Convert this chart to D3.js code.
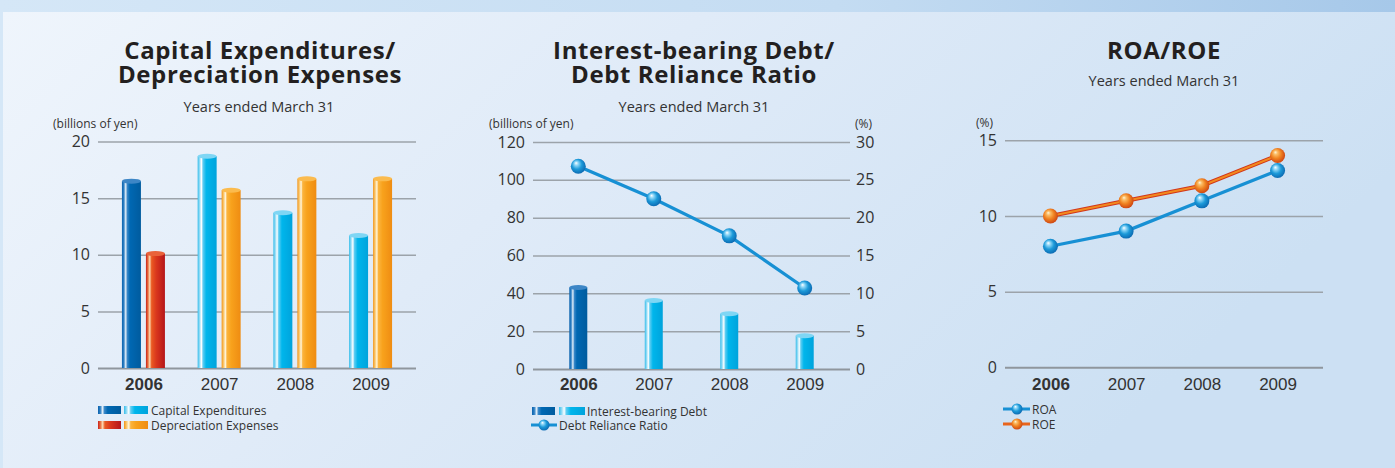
<!DOCTYPE html>
<html>
<head>
<meta charset="utf-8">
<script src="https://cdn.jsdelivr.net/npm/d3@7/dist/d3.min.js"></script>
<style>
  html, body { margin: 0; padding: 0; background: #eaf2fb; }
  svg { display: block; font-family: "Open Sans", "Noto Sans", sans-serif; }
  .tick text { fill: #333; }
</style>
</head>
<body>
<svg id="chart" width="1395" height="468"></svg>
<script>
// ---- data ----
const years = ["2006", "2007", "2008", "2009"];
const capitalExpenditures = [16.5, 18.7, 13.7, 11.7];      // billions of yen
const depreciationExpenses = [10.1, 15.7, 16.7, 16.7];     // billions of yen
const interestBearingDebt = [43.1, 36.2, 29.2, 17.6];      // billions of yen
const debtRelianceRatio = [26.8, 22.5, 17.6, 10.7];        // %
const roa = [8.0, 9.0, 11.0, 13.0];                         // %
const roe = [10.0, 11.0, 12.0, 14.0];                       // %
const capexTicks = [0, 5, 10, 15, 20];
const debtTicks = [0, 20, 40, 60, 80, 100, 120];
const ratioTicks = [0, 5, 10, 15, 20, 25, 30];
const roTicks = [0, 5, 10, 15];

const svg = d3.select("#chart");
const W = 1395, H = 468;
const defs = svg.append("defs");

// ---- background ----
const bgTop = defs.append("linearGradient").attr("id", "bgTop").attr("x1", 0).attr("x2", 1).attr("y1", 0).attr("y2", 0);
bgTop.append("stop").attr("offset", "0%").attr("stop-color", "#d5e7f7");
bgTop.append("stop").attr("offset", "60%").attr("stop-color", "#c4dcf2");
bgTop.append("stop").attr("offset", "100%").attr("stop-color", "#a6c8e9");
const bgPanel = defs.append("linearGradient").attr("id", "bgPanel").attr("x1", 0).attr("x2", 1).attr("y1", 0).attr("y2", 0.35);
bgPanel.append("stop").attr("offset", "0%").attr("stop-color", "#eff5fc");
bgPanel.append("stop").attr("offset", "45%").attr("stop-color", "#e0ebf8");
bgPanel.append("stop").attr("offset", "100%").attr("stop-color", "#cce0f3");
svg.append("rect").attr("width", W).attr("height", H).attr("fill", "url(#bgTop)");
svg.append("rect").attr("x", 3).attr("y", 12).attr("width", W - 3).attr("height", H - 12).attr("fill", "url(#bgPanel)");

// ---- gradients for cylinder bars ----
function barGradient(id, stops) {
  const g = defs.append("linearGradient").attr("id", id).attr("x1", 0).attr("x2", 1).attr("y1", 0).attr("y2", 0);
  stops.forEach(([o, c]) => g.append("stop").attr("offset", o).attr("stop-color", c));
}
barGradient("gDarkBlue", [["0%", "#0a62ad"], ["10%", "#2f80c4"], ["20%", "#e6f1fa"], ["28%", "#3a88c8"], ["42%", "#0068b3"], ["100%", "#005b9e"]]);
barGradient("gLightBlue", [["0%", "#35bdea"], ["10%", "#8fdaf5"], ["20%", "#ffffff"], ["28%", "#5fcdf2"], ["45%", "#00b6ec"], ["100%", "#00a3dc"]]);
barGradient("gRed", [["0%", "#c8201c"], ["10%", "#e86a3a"], ["20%", "#fbd7b0"], ["30%", "#ea5a22"], ["55%", "#d9361d"], ["100%", "#b5161a"]]);
barGradient("gOrange", [["0%", "#f39416"], ["10%", "#f9c56a"], ["20%", "#fff5dc"], ["28%", "#fbb43e"], ["50%", "#f8a21c"], ["100%", "#ef8c12"]]);
const capGrad = { gDarkBlue: "#3d86c6", gLightBlue: "#7fd6f4", gRed: "#e9623a", gOrange: "#fbbb4e" };

// ---- sphere gradients ----
function sphereGradient(id, stops) {
  const g = defs.append("radialGradient").attr("id", id).attr("cx", "45%").attr("cy", "45%").attr("r", "60%").attr("fx", "35%").attr("fy", "28%");
  stops.forEach(([o, c]) => g.append("stop").attr("offset", o).attr("stop-color", c));
}
sphereGradient("sBlue", [["0%", "#ffffff"], ["22%", "#8ed6f7"], ["55%", "#1c9ad9"], ["100%", "#0a64ad"]]);
sphereGradient("sOrange", [["0%", "#fff4d8"], ["22%", "#fbbd66"], ["55%", "#f08321"], ["100%", "#c93e10"]]);

// ---- helpers ----
function title(cx, lines, y0) {
  lines.forEach((t, i) => svg.append("text").attr("x", cx).attr("y", y0 + i * 24)
    .attr("text-anchor", "middle").attr("font-size", 24).attr("font-weight", 700)
    .attr("letter-spacing", 0.6).attr("fill", "#231f20").text(t));
}
function subtitle(cx, y) {
  svg.append("text").attr("x", cx).attr("y", y).attr("text-anchor", "middle")
    .attr("font-size", 14.5).attr("fill", "#333").text("Years ended March 31");
}
function unitLabel(x, y, t, anchor) {
  svg.append("text").attr("x", x).attr("y", y).attr("text-anchor", anchor || "start")
    .attr("font-size", 12).attr("fill", "#333").text(t);
}
function gridAxis(yScale, ticks, x0, x1) {
  const g = svg.append("g").attr("transform", `translate(${x0},0)`);
  g.call(d3.axisLeft(yScale).tickValues(ticks).tickSize(-(x1 - x0)).tickPadding(8).tickFormat(d3.format("d")));
  g.select(".domain").remove();
  g.selectAll(".tick line").attr("stroke", "#9ca3aa").attr("stroke-width", 1.5);
  g.selectAll(".tick").filter(d => d === 0).select("line").attr("stroke", "#8f969d").attr("stroke-width", 2);
  g.selectAll(".tick text").attr("font-size", 16).attr("fill", "#333").attr("font-family", "'Open Sans', sans-serif");
  return g;
}
function rightAxis(yScale, ticks, x) {
  const g = svg.append("g").attr("transform", `translate(${x},0)`);
  g.call(d3.axisRight(yScale).tickValues(ticks).tickSize(0).tickPadding(6).tickFormat(d3.format("d")));
  g.select(".domain").remove();
  g.selectAll(".tick text").attr("font-size", 16).attr("fill", "#333").attr("font-family", "'Open Sans', sans-serif");
}
function xLabels(xScale, y) {
  const g = svg.append("g").attr("transform", `translate(0,${y})`);
  g.call(d3.axisBottom(xScale).tickSize(0).tickPadding(0));
  g.select(".domain").remove();
  g.selectAll(".tick text").attr("font-size", 17).attr("fill", "#333").attr("dy", 0)
    .attr("font-weight", (d, i) => i === 0 ? 700 : 400);
}
function cylinder(g, x, w, yTop, yBase, grad) {
  g.append("rect").attr("x", x).attr("y", yTop).attr("width", w).attr("height", yBase - yTop).attr("fill", `url(#${grad})`);
  g.append("ellipse").attr("cx", x + w / 2).attr("cy", yTop).attr("rx", w / 2).attr("ry", 2.5).attr("fill", capGrad[grad]);
}
function sphere(g, x, y, grad) {
  g.append("circle").attr("cx", x).attr("cy", y).attr("r", 7.5).attr("fill", `url(#${grad})`);
}

// ===== Chart 1: Capital Expenditures / Depreciation Expenses =====
{
  const x0 = 98, x1 = 416;
  const x = d3.scalePoint().domain(years).range([x0, x1]).padding(0.6);
  const y = d3.scaleLinear().domain([0, 20]).range([368, 141.5]);
  title(260, ["Capital Expenditures/", "Depreciation Expenses"], 59);
  subtitle(259, 112);
  unitLabel(53, 128, "(billions of yen)");
  gridAxis(y, capexTicks, x0, x1);
  const g = svg.append("g");
  const bw = 19;
  years.forEach((yr, i) => {
    const c = x(yr);
    cylinder(g, c - 2.5 - bw, bw, y(capitalExpenditures[i]), y(0), i === 0 ? "gDarkBlue" : "gLightBlue");
    cylinder(g, c + 2.5, bw, y(depreciationExpenses[i]), y(0), i === 0 ? "gRed" : "gOrange");
  });
  xLabels(x, 390);
  // legend
  const lg = svg.append("g");
  lg.append("rect").attr("x", 98).attr("y", 406).attr("width", 23).attr("height", 8).attr("fill", "url(#gDarkBlue)");
  lg.append("rect").attr("x", 124).attr("y", 406).attr("width", 24).attr("height", 8).attr("fill", "url(#gLightBlue)");
  lg.append("text").attr("x", 151).attr("y", 415).attr("font-size", 12).attr("fill", "#333").text("Capital Expenditures");
  lg.append("rect").attr("x", 98).attr("y", 421).attr("width", 23).attr("height", 8).attr("fill", "url(#gRed)");
  lg.append("rect").attr("x", 124).attr("y", 421).attr("width", 24).attr("height", 8).attr("fill", "url(#gOrange)");
  lg.append("text").attr("x", 151).attr("y", 430).attr("font-size", 12).attr("fill", "#333").text("Depreciation Expenses");
}

// ===== Chart 2: Interest-bearing Debt / Debt Reliance Ratio =====
{
  const x0 = 533, x1 = 850;
  const x = d3.scalePoint().domain(years).range([x0, x1]).padding(0.6);
  const y = d3.scaleLinear().domain([0, 120]).range([369, 142]);
  const yr = d3.scaleLinear().domain([0, 30]).range([369, 142]);
  title(694, ["Interest-bearing Debt/", "Debt Reliance Ratio"], 59);
  subtitle(694, 112);
  unitLabel(489, 128, "(billions of yen)");
  unitLabel(855, 128, "(%)");
  gridAxis(y, debtTicks, x0, x1);
  rightAxis(yr, ratioTicks, x1);
  const g = svg.append("g");
  const bw = 18;
  years.forEach((yrs, i) => {
    cylinder(g, x(yrs) - bw / 2, bw, y(interestBearingDebt[i]), y(0), i === 0 ? "gDarkBlue" : "gLightBlue");
  });
  const line = d3.line().x((d, i) => x(years[i])).y(d => yr(d));
  g.append("path").datum(debtRelianceRatio).attr("d", line).attr("fill", "none")
    .attr("stroke", "#1790d4").attr("stroke-width", 3.2);
  debtRelianceRatio.forEach((v, i) => sphere(g, x(years[i]), yr(v), "sBlue"));
  xLabels(x, 390);
  // legend
  const lg = svg.append("g");
  lg.append("rect").attr("x", 532).attr("y", 407).attr("width", 23).attr("height", 8).attr("fill", "url(#gDarkBlue)");
  lg.append("rect").attr("x", 559).attr("y", 407).attr("width", 26).attr("height", 8).attr("fill", "url(#gLightBlue)");
  lg.append("text").attr("x", 587).attr("y", 416).attr("font-size", 12).attr("fill", "#333").text("Interest-bearing Debt");
  lg.append("line").attr("x1", 531).attr("x2", 557).attr("y1", 425).attr("y2", 425).attr("stroke", "#1790d4").attr("stroke-width", 3);
  lg.append("circle").attr("cx", 544).attr("cy", 425).attr("r", 5.5).attr("fill", "url(#sBlue)");
  lg.append("text").attr("x", 559).attr("y", 430).attr("font-size", 12).attr("fill", "#333").text("Debt Reliance Ratio");
}

// ===== Chart 3: ROA / ROE =====
{
  const x0 = 1005, x1 = 1323;
  const x = d3.scalePoint().domain(years).range([x0, x1]).padding(0.6);
  const y = d3.scaleLinear().domain([0, 15]).range([367.3, 140.3]);
  title(1164, ["ROA/ROE"], 59);
  subtitle(1164, 86);
  unitLabel(976, 127, "(%)");
  gridAxis(y, roTicks, x0, x1);
  const g = svg.append("g");
  const line = d3.line().x((d, i) => x(years[i])).y(d => y(d));
  g.append("path").datum(roe).attr("d", line).attr("fill", "none").attr("stroke", "#d2361a").attr("stroke-width", 4);
  g.append("path").datum(roe).attr("d", line).attr("fill", "none").attr("stroke", "#f28a1e").attr("stroke-width", 2);
  g.append("path").datum(roa).attr("d", line).attr("fill", "none").attr("stroke", "#1790d4").attr("stroke-width", 3.2);
  roe.forEach((v, i) => sphere(g, x(years[i]), y(v), "sOrange"));
  roa.forEach((v, i) => sphere(g, x(years[i]), y(v), "sBlue"));
  xLabels(x, 390);
  // legend
  const lg = svg.append("g");
  lg.append("line").attr("x1", 1003).attr("x2", 1030).attr("y1", 409).attr("y2", 409).attr("stroke", "#1790d4").attr("stroke-width", 3);
  lg.append("circle").attr("cx", 1017).attr("cy", 409).attr("r", 5.5).attr("fill", "url(#sBlue)");
  lg.append("text").attr("x", 1032).attr("y", 414).attr("font-size", 12).attr("fill", "#333").text("ROA");
  lg.append("line").attr("x1", 1003).attr("x2", 1030).attr("y1", 424).attr("y2", 424).attr("stroke", "#e8641c").attr("stroke-width", 3);
  lg.append("circle").attr("cx", 1017).attr("cy", 424).attr("r", 5.5).attr("fill", "url(#sOrange)");
  lg.append("text").attr("x", 1032).attr("y", 429).attr("font-size", 12).attr("fill", "#333").text("ROE");
}
</script>
</body>
</html>
